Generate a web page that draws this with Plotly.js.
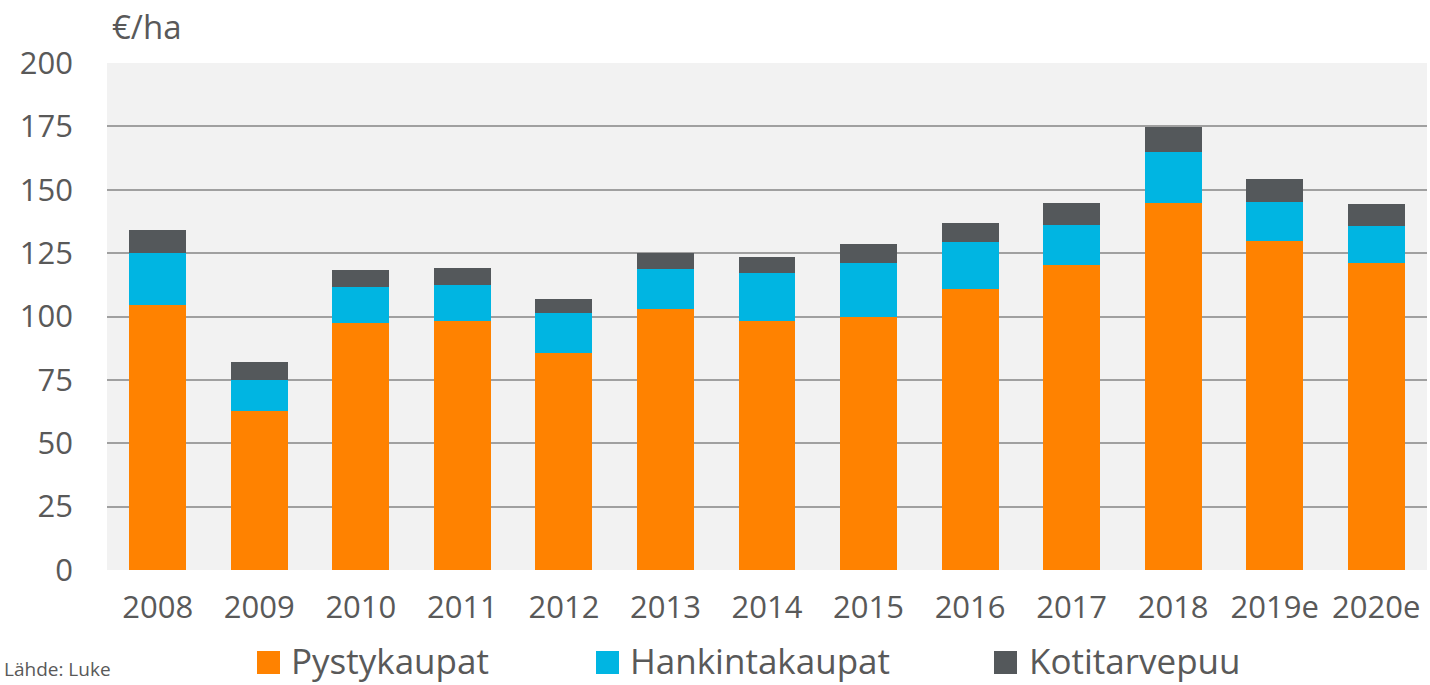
<!DOCTYPE html>
<html>
<head>
<meta charset="utf-8">
<script src="https://cdn.plot.ly/plotly-3.0.1.min.js"></script>
<style>html,body{margin:0;padding:0;background:#fff;}#chart{width:1430px;height:685px;}</style>
</head>
<body>
<div id="chart"></div>
<script>
const years = ['2008','2009','2010','2011','2012','2013','2014','2015','2016','2017','2018','2019e','2020e'];
const pystykaupat = [104.5, 62.7, 97.6, 98.4, 85.6, 103.0, 98.4, 100.0, 110.8, 120.2, 144.6, 129.7, 121.1];
const hankintakaupat = [20.5, 12.3, 14.0, 13.9, 15.8, 15.6, 18.9, 21.0, 18.5, 15.8, 20.3, 15.3, 14.6];
const kotitarvepuu = [9.1, 7.0, 6.7, 6.7, 5.5, 6.3, 6.2, 7.6, 7.6, 8.6, 9.7, 9.2, 8.7];
const seriesNames = ['Pystykaupat', 'Hankintakaupat', 'Kotitarvepuu'];
const yTicks = [0, 25, 50, 75, 100, 125, 150, 175, 200];
const unitLabel = '€/ha';
const sourceLabel = 'Lähde: Luke';

const colors = ['#ff8200', '#00b5e2', '#54585b'];
const textColor = '#595959';
const font = 'Open Sans, sans-serif';

const W = 1430, H = 685;
const L = 107, R = 3, T = 63, B = 115;
const pw = W - L - R, ph = H - T - B;
const px = x => (x - L) / pw;
const py = y => (H - B - y) / ph;

const values = [pystykaupat, hankintakaupat, kotitarvepuu];
const traces = values.map((v, i) => ({
  type: 'bar', x: years, y: v, name: seriesNames[i],
  marker: {color: colors[i], line: {width: 0}},
  showlegend: false, hoverinfo: 'x+y+name'
}));

// custom legend (squares + labels)
const legendMarkerX = [257, 596, 994];
const legendTextX = [289, 628, 1027];
const shapes = [], annotations = [];
seriesNames.forEach((n, i) => {
  shapes.push({type: 'rect', xref: 'paper', yref: 'paper',
    x0: px(legendMarkerX[i]), x1: px(legendMarkerX[i] + 23),
    y0: py(651), y1: py(674), fillcolor: colors[i], line: {width: 0}});
  annotations.push({xref: 'paper', yref: 'paper', x: px(legendTextX[i]), y: py(660),
    xanchor: 'left', yanchor: 'middle', showarrow: false, text: n,
    font: {family: font, size: 35, color: textColor}});
});
annotations.push({xref: 'paper', yref: 'paper', x: px(110), y: py(26),
  xanchor: 'left', yanchor: 'middle', showarrow: false, text: unitLabel,
  font: {family: font, size: 33, color: textColor}});
annotations.push({xref: 'paper', yref: 'paper', x: px(2), y: py(684),
  xanchor: 'left', yanchor: 'bottom', showarrow: false, text: sourceLabel,
  font: {family: font, size: 19, color: textColor}});

const layout = {
  width: W, height: H,
  margin: {l: L, r: R, t: T, b: B, pad: 0},
  paper_bgcolor: '#ffffff', plot_bgcolor: '#f2f2f2',
  barmode: 'stack', bargap: 0.44,
  showlegend: false,
  xaxis: {type: 'category', showgrid: false, zeroline: false, showline: false,
    ticks: '', tickfont: {family: font, size: 31, color: textColor}, ticklabelstandoff: 16},
  yaxis: {range: [0, 200], tickvals: yTicks, ticktext: yTicks.map(String),
    showgrid: true, gridcolor: '#a0a0a0', gridwidth: 2, zeroline: false, showline: false,
    ticks: '', tickfont: {family: font, size: 31, color: textColor}, ticklabelstandoff: 33},
  shapes: shapes, annotations: annotations,
  font: {family: font, color: textColor}
};
Plotly.newPlot('chart', traces, layout, {displayModeBar: false, staticPlot: true});
</script>
</body>
</html>
